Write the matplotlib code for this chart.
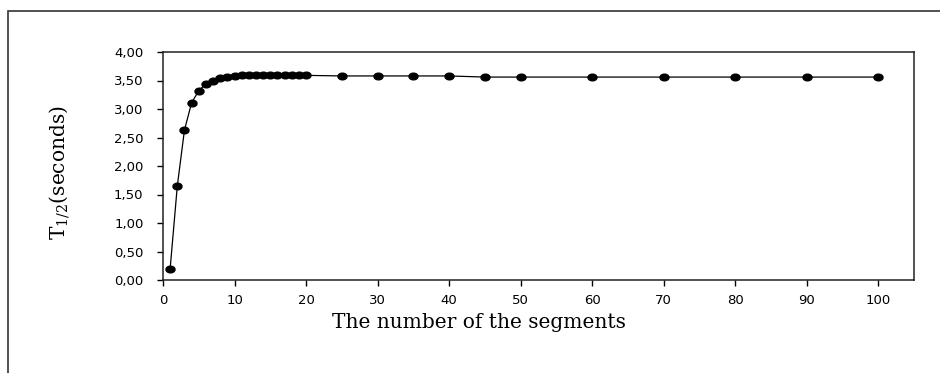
import numpy as np
import matplotlib.pyplot as plt
from matplotlib.path import Path
from matplotlib.patches import Rectangle
from matplotlib.ticker import FuncFormatter

segments = [1, 2, 3, 4, 5, 6, 7, 8, 9, 10, 11, 12, 13, 14, 15, 16, 17, 18, 19, 20,
            25, 30, 35, 40, 45, 50, 60, 70, 80, 90, 100]
t_half = [0.20, 1.65, 2.63, 3.11, 3.32, 3.44, 3.50, 3.54, 3.56, 3.58,
          3.59, 3.59, 3.59, 3.59, 3.59, 3.59, 3.59, 3.59, 3.59, 3.59,
          3.58, 3.58, 3.58, 3.58, 3.56, 3.56, 3.56, 3.56, 3.56, 3.56, 3.56]
x_ticks = [0, 10, 20, 30, 40, 50, 60, 70, 80, 90, 100]
y_ticks = [0, 0.5, 1.0, 1.5, 2.0, 2.5, 3.0, 3.5, 4.0]

plt.rcParams['mathtext.fontset'] = 'dejavuserif'

# flat ellipse marker like the old excel one
th = np.linspace(0, 2*np.pi, 40)
ell = Path(np.column_stack([1.35*np.cos(th), np.sin(th)]), closed=True)

fig = plt.figure(figsize=(9.4, 3.73), dpi=100)
fig.patches.append(Rectangle((8/940, -0.1), 2, 1 - 11/373 + 0.1, transform=fig.transFigure,
                             fill=False, edgecolor='#333333', linewidth=1.2))
ax = fig.add_axes([163/940, 1 - 280/373, (914-163)/940, (280-52)/373])
ax.plot(segments, t_half, color='black', linewidth=0.9, marker=ell, markersize=6.5,
        markerfacecolor='black', markeredgecolor='black')
ax.set_xlim(0, 105)
ax.set_ylim(0, 4)
ax.set_xticks(x_ticks)
ax.set_yticks(y_ticks)
ax.yaxis.set_major_formatter(FuncFormatter(lambda v, p: f'{v:.2f}'.replace('.', ',')))
ax.tick_params(direction='out', length=4, width=1, labelsize=9.5, pad=6)
ax.tick_params(axis='y', pad=10)
for lab in ax.get_xticklabels() + ax.get_yticklabels():
    lab.set_family('DejaVu Sans')
for s in ax.spines.values():
    s.set_linewidth(1.1)
    s.set_color('#222222')

fig.text(479/940, 1 - 323/373, 'The number of the segments', family='DejaVu Serif',
         fontsize=14.5, ha='center', va='center')
fig.text(60/940, 1 - 173/373, r'T$_{1/2}$(seconds)', family='DejaVu Serif',
         fontsize=14.5, ha='center', va='center', rotation=90)

fig.savefig('out.png', dpi=100)
